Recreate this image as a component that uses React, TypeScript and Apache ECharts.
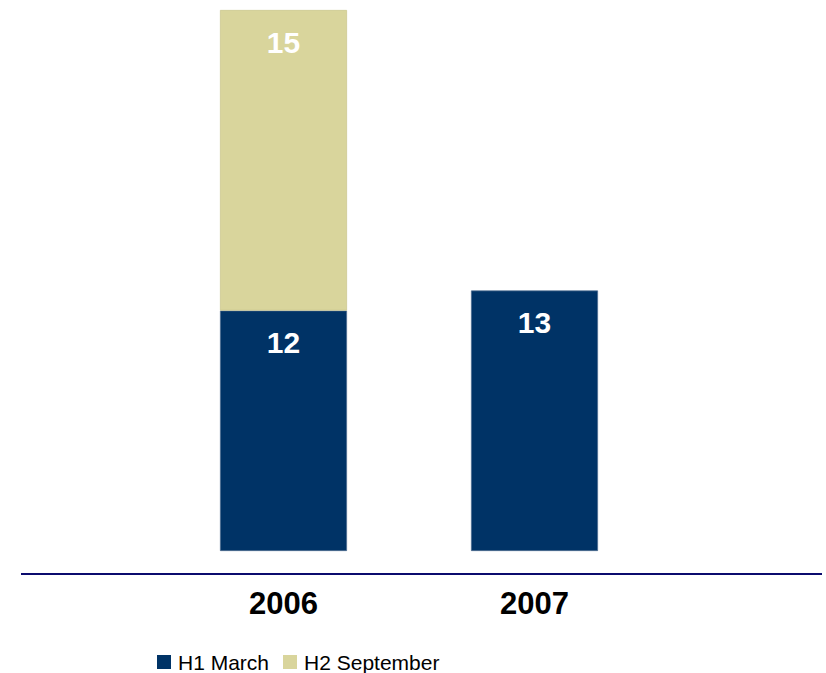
import React, { useEffect, useRef } from "react";
import * as echarts from "echarts";

const categories = ["2006", "2007"];
const h1March = [12, 13];
const h2September: (number | null)[] = [15, null];
const seriesNames = ["H1 March", "H2 September"];

export default function App() {
  const ref = useRef<HTMLDivElement>(null);
  useEffect(() => {
    document.body.style.margin = "0";
    const chart = echarts.init(ref.current!, null, { renderer: "svg" });
    const font = "'Liberation Sans', Arial, sans-serif";
    const label = {
      show: true,
      position: ["50%", 32] as any,
      align: "center",
      verticalAlign: "middle",
      color: "#ffffff",
      fontWeight: "bold",
      fontSize: 30,
      fontFamily: font,
    };
    chart.setOption({
      animation: false,
      grid: { left: 158, right: 166, top: 10, bottom: 122 },
      legend: {
        data: seriesNames,
        left: 152,
        top: 646,
        padding: 5,
        icon: "rect",
        itemWidth: 14,
        itemHeight: 14,
        itemGap: 14,
        itemStyle: { borderWidth: 0 },
        textStyle: { fontSize: 21, lineHeight: 22, color: "#000000", fontFamily: font, padding: [0, 0, 0, 2] },
      },
      xAxis: {
        type: "category",
        data: categories,
        axisLine: { show: false },
        axisTick: { show: false },
        axisLabel: {
          margin: 37,
          fontSize: 31,
          fontWeight: "bold",
          color: "#000000",
          fontFamily: font,
        },
      },
      yAxis: {
        type: "value",
        min: 0,
        max: 27,
        show: false,
        splitLine: { show: false },
      },
      graphic: [
        {
          type: "line",
          shape: { x1: 21, y1: 574, x2: 822, y2: 574 },
          style: { stroke: "#0b0b6e", lineWidth: 2 },
        },
      ],
      series: [
        {
          name: seriesNames[0],
          type: "bar",
          stack: "total",
          data: h1March,
          barWidth: 127,
          itemStyle: { color: "#003366", borderColor: "#4d6b8f", borderWidth: 0.7 },
          label,
        },
        {
          name: seriesNames[1],
          type: "bar",
          stack: "total",
          data: h2September,
          barWidth: 127,
          itemStyle: { color: "#D9D59C", borderColor: "#c8c48a", borderWidth: 0.7 },
          label,
        },
      ],
    });
    return () => chart.dispose();
  }, []);
  return <div ref={ref} style={{ width: 826, height: 673 }} />;
}
